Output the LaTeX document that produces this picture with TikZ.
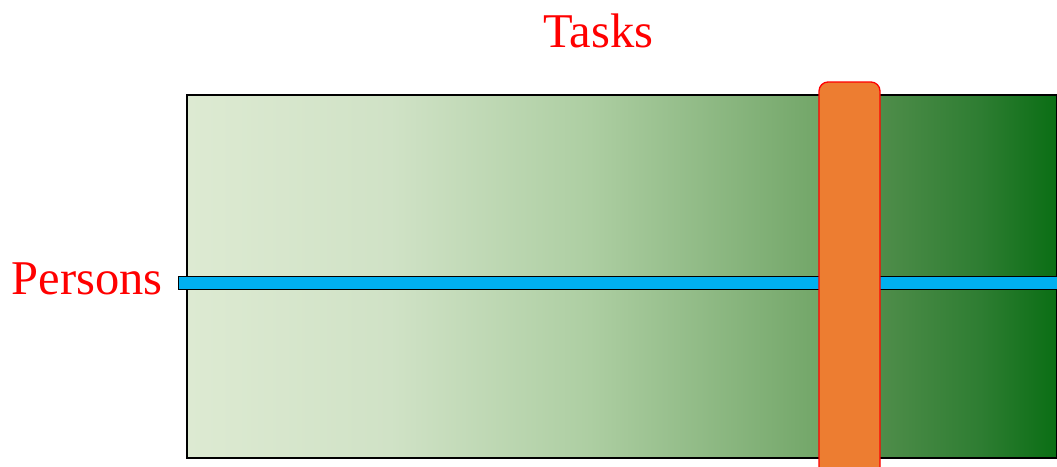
\documentclass[tikz,border=0pt]{standalone}
\usepackage{fontspec}
\setmainfont{Liberation Serif}
\definecolor{g0}{HTML}{DDEAD2}
\definecolor{g1}{HTML}{D0E2C6}
\definecolor{g2}{HTML}{ADCEA2}
\definecolor{g3}{HTML}{72A668}
\definecolor{g4}{HTML}{4F8D4A}
\definecolor{g5}{HTML}{2E7D32}
\definecolor{g6}{HTML}{0A6E14}
\definecolor{barblue}{HTML}{00B0F0}
\definecolor{taskorange}{HTML}{ED7D31}
\pgfdeclarehorizontalshading{greenfade}{100bp}{
  color(0bp)=(g0); color(25bp)=(g0); color(36.67bp)=(g1); color(48.16bp)=(g2);
  color(61.38bp)=(g3); color(64.83bp)=(g4); color(70.57bp)=(g5);
  color(75bp)=(g6); color(100bp)=(g6)}
\tikzset{
  lbl/.style={text=red, font=\fontsize{48.5}{58}\selectfont, inner sep=0pt, anchor=base},
  field/.style={draw=black, line width=1.2pt, shading=greenfade},
  personbar/.style={draw=black, line width=1pt, fill=barblue},
  taskbar/.style={draw=red, line width=1.3pt, fill=taskorange, rounded corners=9pt},
}
\begin{document}
\begin{tikzpicture}[x=1pt, y=-1pt]
  \useasboundingbox (0,0) rectangle (1057,466);
  % shaded field
  \shade[field] (187,95) rectangle (1057,458);
  \draw[line width=1.2pt] (1062,95) -- (187,95) -- (187,458) -- (1062,458);
  % person row
  \draw[personbar] (178,276) rectangle (1064,289);
  % task column
  \draw[taskbar] (819,82) rectangle (880,476);
  % labels
  \node[lbl] (tasks) at (598.5,47) {Tasks};
  \node[lbl, anchor=base east] (persons) at (163,294) {Persons};
\end{tikzpicture}
\end{document}
